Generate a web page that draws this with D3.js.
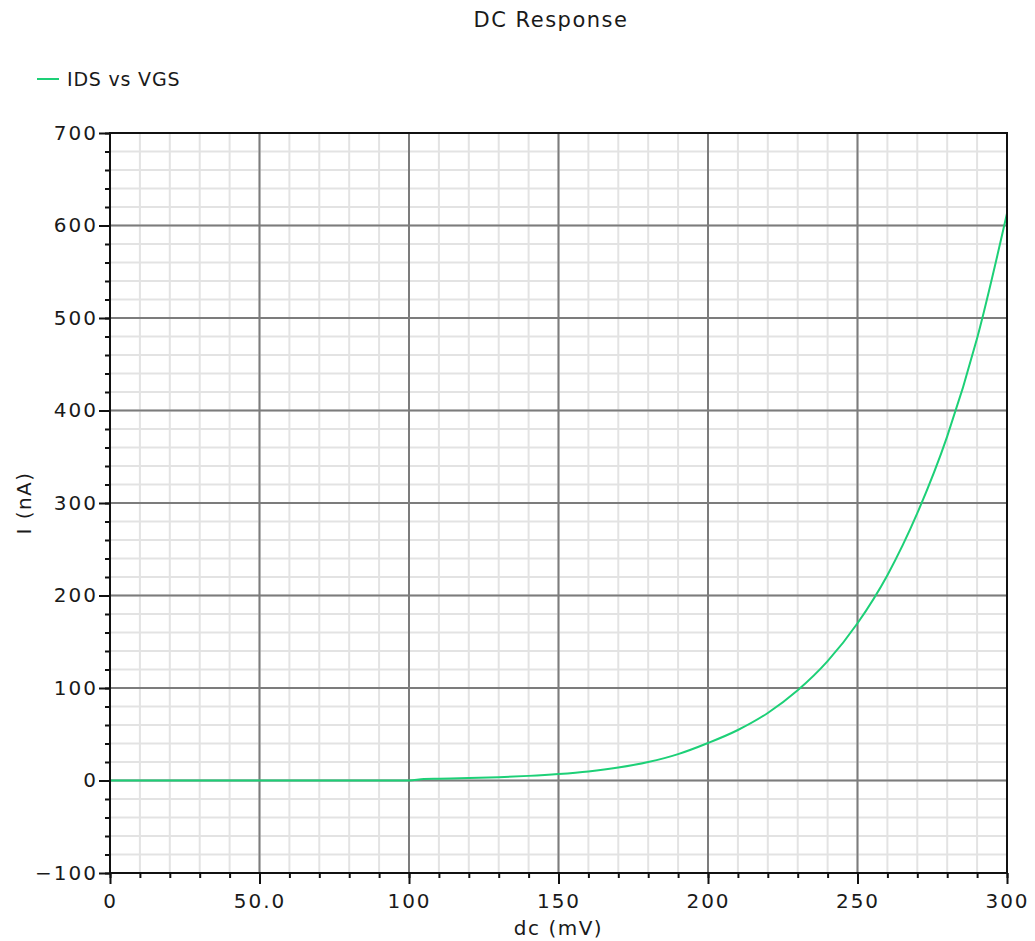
<!DOCTYPE html>
<html>
<head>
<meta charset="utf-8">
<script src="https://cdn.jsdelivr.net/npm/d3@7"></script>
<style>
  html, body { margin: 0; padding: 0; background: #ffffff; }
  svg { display: block; }
  text { font-family: "DejaVu Sans", sans-serif; fill: #1a1a1a; }
</style>
</head>
<body>
<script>
// Gate voltage sweep (mV) and drain current (nA)
const vgs = [0, 10, 20, 30, 40, 50, 60, 70, 80, 90, 100, 105, 110, 120, 130, 140, 150,
             160, 170, 180, 190, 200, 210, 220, 230, 240, 250, 260, 270, 280, 290, 300];
const ids = [0, 0, 0, 0, 0, 0, 0, 0, 0, 0, 0, 1.7, 2.0, 2.6, 3.6, 5.0, 7.0,
             9.8, 14, 20, 28.5, 40.5, 54.6, 73, 97.5, 129, 170, 222, 289, 372, 478, 613];

const xTicks = [0, 50, 100, 150, 200, 250, 300];
const xTickLabels = ["0", "50.0", "100", "150", "200", "250", "300"];
const yTicks = [-100, 0, 100, 200, 300, 400, 500, 600, 700];
const yTickLabels = ["\u2212100", "0", "100", "200", "300", "400", "500", "600", "700"];

const chartTitle = "DC Response";
const seriesName = "IDS vs VGS";
const xTitle = "dc (mV)";
const yTitle = "I (nA)";
const curveColor = "#1dd077";

const W = 1035, H = 941;
const L = 110, R = 1007, T = 133, B = 873;

const svg = d3.select("body").append("svg")
  .attr("width", W).attr("height", H);

svg.append("rect").attr("width", W).attr("height", H).attr("fill", "#fff");

const x = d3.scaleLinear().domain([0, 300]).range([L, R]);
const y = d3.scaleLinear().domain([-100, 700]).range([B, T]);

const xMinor = d3.range(0, 301, 10);
const yMinor = d3.range(-100, 701, 20);

// minor grid
const grid = svg.append("g");
grid.selectAll("line.vmin").data(xMinor).join("line")
  .attr("x1", d => x(d)).attr("x2", d => x(d)).attr("y1", T).attr("y2", B)
  .attr("stroke", "#e3e3e3").attr("stroke-width", 2);
grid.selectAll("line.hmin").data(yMinor).join("line")
  .attr("y1", d => y(d)).attr("y2", d => y(d)).attr("x1", L).attr("x2", R)
  .attr("stroke", "#e3e3e3").attr("stroke-width", 2);
// major grid
grid.selectAll("line.vmaj").data(xTicks).join("line")
  .attr("x1", d => x(d)).attr("x2", d => x(d)).attr("y1", T).attr("y2", B)
  .attr("stroke", "#7c7c7c").attr("stroke-width", 2);
grid.selectAll("line.hmaj").data(yTicks).join("line")
  .attr("y1", d => y(d)).attr("y2", d => y(d)).attr("x1", L).attr("x2", R)
  .attr("stroke", "#7c7c7c").attr("stroke-width", 2);

// data curve
const pts = vgs.map((v, i) => [v, ids[i]]);
svg.append("path")
  .datum(pts)
  .attr("fill", "none")
  .attr("stroke", curveColor)
  .attr("stroke-width", 2)
  .attr("d", d3.line().x(d => x(d[0])).y(d => y(d[1])).curve(d3.curveMonotoneX));

// axes: minor ticks, then major ticks with labels
function styleAxis(g) {
  g.select(".domain").remove();
  g.selectAll(".tick line").attr("stroke", "#111").attr("stroke-width", 2);
  g.selectAll(".tick text").attr("font-size", 20).attr("fill", "#1a1a1a")
    .attr("letter-spacing", 2)
    .style("font-family", "'DejaVu Sans', sans-serif");
}

svg.append("g").attr("transform", `translate(0,${B})`)
  .call(d3.axisBottom(x).tickValues(xMinor).tickSize(5).tickFormat(""))
  .call(styleAxis);
svg.append("g").attr("transform", `translate(${L},0)`)
  .call(d3.axisLeft(y).tickValues(yMinor).tickSize(5).tickFormat(""))
  .call(styleAxis);

svg.append("g").attr("transform", `translate(0,${B})`)
  .call(d3.axisBottom(x).tickValues(xTicks).tickSize(11).tickPadding(10)
    .tickFormat((d, i) => xTickLabels[i]))
  .call(styleAxis);
svg.append("g").attr("transform", `translate(${L},0)`)
  .call(d3.axisLeft(y).tickValues(yTicks).tickSize(11).tickPadding(1)
    .tickFormat((d, i) => yTickLabels[i]))
  .call(styleAxis);

// plot frame
svg.append("rect")
  .attr("x", L).attr("y", T).attr("width", R - L).attr("height", B - T)
  .attr("fill", "none").attr("stroke", "#111").attr("stroke-width", 2);

// title
svg.append("text").attr("x", 551).attr("y", 27)
  .attr("text-anchor", "middle").attr("font-size", 21)
  .attr("letter-spacing", 1.5)
  .text(chartTitle);

// legend
svg.append("line").attr("x1", 37).attr("x2", 59).attr("y1", 79).attr("y2", 79)
  .attr("stroke", curveColor).attr("stroke-width", 2);
svg.append("text").attr("x", 67).attr("y", 86).attr("font-size", 19)
  .attr("letter-spacing", 0.8)
  .text(seriesName);

// axis titles
svg.append("text").attr("x", x(150)).attr("y", 935)
  .attr("text-anchor", "middle").attr("font-size", 20)
  .attr("letter-spacing", 1.5)
  .text(xTitle);
svg.append("text")
  .attr("transform", `translate(31,${y(300)}) rotate(-90)`)
  .attr("text-anchor", "middle").attr("font-size", 20)
  .attr("letter-spacing", 1.5)
  .text(yTitle);
</script>
</body>
</html>
